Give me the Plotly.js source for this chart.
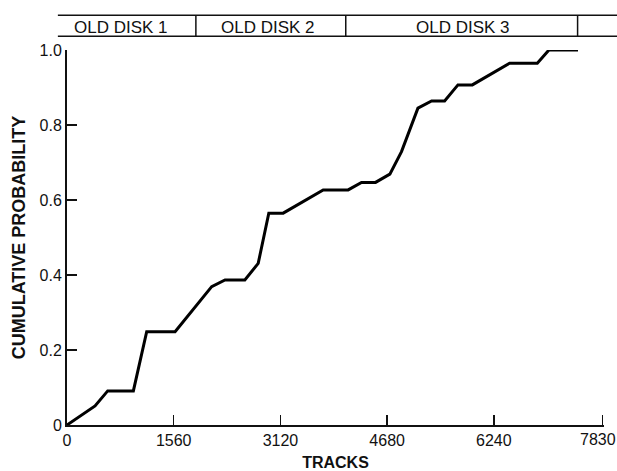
<!DOCTYPE html>
<html>
<head>
<meta charset="utf-8">
<script src="https://cdn.plot.ly/plotly-3.0.1.min.js"></script>
<style>
  html, body { margin: 0; padding: 0; background: #fff; }
  #chart { width: 617px; height: 471px; }
</style>
</head>
<body>
<div id="chart"></div>
<script>
// Cumulative probability of accessed tracks
const tracks = [0, 410, 595, 970, 1165, 1580, 2115, 2310, 2600, 2795, 2950, 3160,
                3745, 4110, 4305, 4510, 4720, 4890, 5130, 5330, 5520, 5715, 5925,
                6470, 6875, 7045, 7470];
const cumProb = [0, 0.051, 0.091, 0.091, 0.249, 0.249, 0.369, 0.387, 0.387, 0.431,
                 0.565, 0.565, 0.627, 0.627, 0.647, 0.647, 0.669, 0.729, 0.845,
                 0.864, 0.864, 0.907, 0.907, 0.965, 0.965, 1.0, 1.0];

// Axis ticks; the last x label sits at the page edge, so it is drawn
// as an annotation nudged slightly left of its tick
const xTickVals = [0, 1560, 3120, 4680, 6240, 7830];
const xTickText = ['0', '1560', '3120', '4680', '6240', ''];
const xEndLabel = '7830';
const yTickVals = [0, 0.2, 0.4, 0.6, 0.8, 1.0];
const yTickText = ['0', '0.2', '0.4', '0.6', '0.8', '1.0'];

// Disk regions shown in the band above the plot
const diskNames = ['OLD DISK 1', 'OLD DISK 2', 'OLD DISK 3'];
const diskLabelX = [790, 2940, 5790];
const diskDividers = [1884, 4075, 7464];

const font = 'Liberation Sans, Arial, Helvetica, sans-serif';
const ink = '#111';

// band rows, in paper units relative to the plot area
const bandTop = 1.093, bandBottom = 1.037, bandMid = 1.061;

const shapes = [];
[bandTop, bandBottom].forEach(yy => {
  shapes.push({type: 'line', xref: 'paper', yref: 'paper',
               x0: -0.017, x1: 1.05, y0: yy, y1: yy,
               line: {color: ink, width: 1.5}});
});
diskDividers.forEach(xv => {
  shapes.push({type: 'line', xref: 'x', yref: 'paper',
               x0: xv, x1: xv, y0: bandBottom, y1: bandTop,
               line: {color: ink, width: 1.5}});
});

const annotations = diskNames.map((name, i) => ({
  text: name, xref: 'x', yref: 'paper', x: diskLabelX[i], y: bandMid,
  showarrow: false, xanchor: 'center', yanchor: 'middle',
  font: {family: font, size: 17, color: ink}
}));
annotations.push({
  text: xEndLabel, xref: 'x', yref: 'paper',
  x: xTickVals[xTickVals.length - 1], y: 0,
  xanchor: 'center', yanchor: 'top', xshift: -5, yshift: -4,
  showarrow: false, font: {family: font, size: 16, color: ink}
});

const trace = {
  x: tracks, y: cumProb, type: 'scatter', mode: 'lines',
  line: {color: '#000', width: 3},
  hoverinfo: 'skip', cliponaxis: false
};

const layout = {
  width: 617, height: 471,
  margin: {l: 67, r: 13, t: 50, b: 46},
  paper_bgcolor: '#fff', plot_bgcolor: '#fff',
  showlegend: false,
  font: {family: font, size: 16, color: ink},
  xaxis: {
    range: [0, 7850], tickvals: xTickVals, ticktext: xTickText,
    ticks: 'inside', ticklen: 10, tickwidth: 1.5, tickcolor: ink,
    showline: true, linecolor: ink, linewidth: 2,
    showgrid: false, zeroline: false,
    tickfont: {family: font, size: 16, color: ink},
    title: {text: '<b>TRACKS</b>', font: {family: font, size: 16, color: ink}, standoff: 9}
  },
  yaxis: {
    range: [0, 1.0], tickvals: yTickVals, ticktext: yTickText,
    ticks: 'inside', ticklen: 10, tickwidth: 1.5, tickcolor: ink,
    showline: true, linecolor: ink, linewidth: 2,
    showgrid: false, zeroline: false,
    tickfont: {family: font, size: 16, color: ink},
    title: {text: '<b>CUMULATIVE PROBABILITY</b>', font: {family: font, size: 18, color: ink}, standoff: 9}
  },
  shapes: shapes,
  annotations: annotations
};

Plotly.newPlot('chart', [trace], layout, {displayModeBar: false, staticPlot: true});
</script>
</body>
</html>
